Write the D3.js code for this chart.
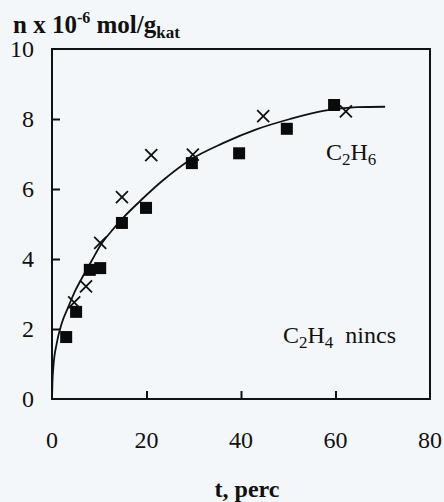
<!DOCTYPE html>
<html>
<head>
<meta charset="utf-8">
<script src="https://cdn.jsdelivr.net/npm/d3@7"></script>
<style>
  html, body { margin: 0; padding: 0; background: #f3f7f9; }
  svg { display: block; }
  text { font-family: "Liberation Serif", "Times New Roman", serif; fill: #111; }
</style>
</head>
<body>
<svg id="chart" width="444" height="502"></svg>
<script>
// Ethane (filled squares) measurements
const squareT = [3, 5.1, 8, 10.2, 14.8, 19.9, 29.6, 39.6, 49.7, 59.7];
const squareN = [1.77, 2.49, 3.69, 3.74, 5.03, 5.46, 6.74, 7.02, 7.72, 8.4];

// Second run (crosses)
const crossT = [4.7, 7.2, 10.2, 14.8, 21, 29.8, 44.7, 62.2];
const crossN = [2.76, 3.22, 4.46, 5.77, 6.97, 6.98, 8.08, 8.22];

// Fitted trend line
const curveT = [0, 0.1, 0.3, 1.0, 2.05, 3.45, 4.9, 6.6, 8.4, 10.2, 12.6, 15, 18.6, 23.5, 29.2, 36.2, 43.4, 50.4, 57.4, 64.6, 70.5];
const curveN = [0, 0.5, 0.93, 1.59, 2.16, 2.63, 3.09, 3.52, 3.95, 4.38, 4.8, 5.17, 5.65, 6.25, 6.83, 7.31, 7.71, 8.0, 8.23, 8.34, 8.35];

const xTicks = [0, 20, 40, 60, 80];
const yTicks = [0, 2, 4, 6, 8, 10];

const svg = d3.select("#chart");
const plotL = 52, plotR = 430, plotT = 49, plotB = 399;

const x = d3.scaleLinear().domain([0, 80]).range([plotL, plotR]);
const y = d3.scaleLinear().domain([0, 10]).range([plotB, plotT]);

// frame
svg.append("rect")
  .attr("x", plotL).attr("y", plotT)
  .attr("width", plotR - plotL).attr("height", plotB - plotT)
  .attr("fill", "none").attr("stroke", "#111").attr("stroke-width", 2);

// inward ticks on the left axis
const yAxis = d3.axisRight(y).tickValues(yTicks.slice(1, -1)).tickSize(8).tickFormat("");
svg.append("g").attr("transform", `translate(${plotL},0)`).call(yAxis)
  .call(g => g.select(".domain").remove())
  .selectAll("line").attr("stroke", "#111").attr("stroke-width", 2);

// inward ticks on the bottom axis
const xAxis = d3.axisTop(x).tickValues(xTicks.slice(1, -1)).tickSize(8).tickFormat("");
svg.append("g").attr("transform", `translate(0,${plotB})`).call(xAxis)
  .call(g => g.select(".domain").remove())
  .selectAll("line").attr("stroke", "#111").attr("stroke-width", 2);

// tick labels
svg.append("g").selectAll("text").data(yTicks).join("text")
  .attr("x", 34).attr("y", d => y(d) + 8)
  .attr("text-anchor", "end").attr("font-size", 24)
  .text(d => d);

svg.append("g").selectAll("text").data(xTicks).join("text")
  .attr("x", d => x(d)).attr("y", 448)
  .attr("text-anchor", "middle").attr("font-size", 24)
  .text(d => d);

// axis titles
const yt = svg.append("text").attr("x", 13).attr("y", 33)
  .attr("font-size", 25).attr("font-weight", "bold");
yt.append("tspan").text("n x 10");
yt.append("tspan").attr("dy", -10).attr("font-size", 16).text("-6");
yt.append("tspan").attr("dy", 10).text(" mol/g");
yt.append("tspan").attr("dy", 5).attr("font-size", 17).text("kat");

svg.append("text").attr("x", 247).attr("y", 497)
  .attr("text-anchor", "middle").attr("font-size", 24).attr("font-weight", "bold")
  .text("t, perc");

// trend line
const line = d3.line().x(d => x(d[0])).y(d => y(d[1])).curve(d3.curveMonotoneX);
svg.append("path")
  .datum(curveT.map((t, i) => [t, curveN[i]]))
  .attr("d", line).attr("fill", "none").attr("stroke", "#111").attr("stroke-width", 1.8);

// squares
const sq = 12;
svg.append("g").selectAll("rect").data(squareT.map((t, i) => [t, squareN[i]])).join("rect")
  .attr("x", d => x(d[0]) - sq / 2).attr("y", d => y(d[1]) - sq / 2)
  .attr("width", sq).attr("height", sq).attr("fill", "#0a0a0a");

// crosses
const cs = 6;
const cross = svg.append("g").attr("stroke", "#111").attr("stroke-width", 1.8);
crossT.forEach((t, i) => {
  const cx = x(t), cy = y(crossN[i]);
  cross.append("line").attr("x1", cx - cs).attr("y1", cy - cs).attr("x2", cx + cs).attr("y2", cy + cs);
  cross.append("line").attr("x1", cx - cs).attr("y1", cy + cs).attr("x2", cx + cs).attr("y2", cy - cs);
});

// series labels
const l1 = svg.append("text").attr("x", 326).attr("y", 160).attr("font-size", 24);
l1.append("tspan").text("C");
l1.append("tspan").attr("dy", 5).attr("font-size", 17).text("2");
l1.append("tspan").attr("dy", -5).text("H");
l1.append("tspan").attr("dy", 5).attr("font-size", 17).text("6");

const l2 = svg.append("text").attr("x", 283).attr("y", 343).attr("font-size", 24);
l2.append("tspan").text("C");
l2.append("tspan").attr("dy", 5).attr("font-size", 17).text("2");
l2.append("tspan").attr("dy", -5).text("H");
l2.append("tspan").attr("dy", 5).attr("font-size", 17).text("4");
l2.append("tspan").attr("dy", -5).text("\u00a0 nincs");
</script>
</body>
</html>
